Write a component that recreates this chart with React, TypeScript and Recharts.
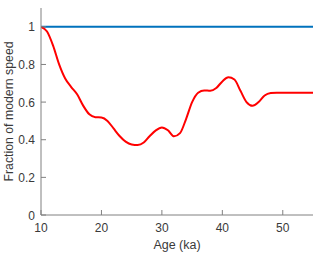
import React from 'react';
import { ComposedChart, Line, XAxis, YAxis, Label } from 'recharts';

const ages = [10, 11, 12, 13, 14, 15, 16, 17, 18, 19, 20, 21, 22, 23, 24, 25, 26, 27, 28, 29, 30, 31, 32, 33, 34, 35, 36, 37, 38, 39, 40, 41, 42, 43, 44, 45, 46, 47, 48, 49, 50, 51, 52, 53, 54, 55];
const fraction = [1.0, 0.975, 0.9, 0.8, 0.725, 0.68, 0.64, 0.58, 0.535, 0.52, 0.518, 0.5, 0.46, 0.42, 0.39, 0.375, 0.372, 0.385, 0.42, 0.45, 0.465, 0.45, 0.418, 0.435, 0.51, 0.6, 0.65, 0.662, 0.66, 0.675, 0.71, 0.732, 0.72, 0.66, 0.6, 0.58, 0.6, 0.635, 0.648, 0.65, 0.65, 0.65, 0.65, 0.65, 0.65, 0.65];
const modern = ages.map(() => 1);
const xTicks = [10, 20, 30, 40, 50];
const yTicks = [0, 0.2, 0.4, 0.6, 0.8, 1];

const data = ages.map((a, i) => ({ age: a, frac: fraction[i], modern: modern[i] }));

const AXIS = '#808080';
const TEXT = '#3a3a3a';
const FONT = '"Liberation Sans", Arial, sans-serif';
const TL = 5;

const BottomTick = (p: any) => (
  <g>
    <line x1={p.x} x2={p.x} y1={p.y} y2={p.y - TL} stroke={AXIS} />
    <text x={p.x} y={p.y + 17} textAnchor="middle" fontSize={12} fill={TEXT} fontFamily={FONT}>{p.payload.value}</text>
  </g>
);
const TopTick = (p: any) => (
  <line x1={p.x} x2={p.x} y1={p.y} y2={p.y + TL} stroke={AXIS} />
);
const LeftTick = (p: any) => (
  <g>
    <line x1={p.x + 6} x2={p.x + 6 + TL} y1={p.y} y2={p.y} stroke={AXIS} />
    <text x={p.x} y={p.y + 4.5} textAnchor="end" fontSize={12} fill={TEXT} fontFamily={FONT}>{String(p.payload.value)}</text>
  </g>
);
const RightTick = (p: any) => (
  <line x1={p.x} x2={p.x - TL} y1={p.y} y2={p.y} stroke={AXIS} />
);

const YLabel = (p: any) => {
  const vb = p.viewBox;
  const cy = vb.y + vb.height / 2;
  const x = 12.5;
  return (
    <text x={x} y={cy} transform={`rotate(-90 ${x} ${cy})`} textAnchor="middle" fontSize={12.3} fill={TEXT} fontFamily={FONT}>
      Fraction of modern speed
    </text>
  );
};

export default function App() {
  return (
    <div style={{ position: 'absolute', left: 0, top: 0 }}>
      <ComposedChart width={320} height={255} data={data} margin={{ top: 8, right: 7, bottom: 0, left: 0 }}>
        <XAxis xAxisId="top" orientation="top" dataKey="age" type="number" domain={[10, 55]} ticks={xTicks} height={0}
          axisLine={{ stroke: AXIS }} tickLine={false} tickSize={0} tickMargin={0} tick={<TopTick />} allowDataOverflow />
        <XAxis dataKey="age" type="number" domain={[10, 55]} ticks={xTicks} height={40}
          axisLine={{ stroke: AXIS }} tickLine={false} tickSize={0} tickMargin={0} tick={<BottomTick />} allowDataOverflow>
          <Label value="Age (ka)" position="insideBottom" offset={6} fontSize={12.5} fill={TEXT} fontFamily={FONT} />
        </XAxis>
        <YAxis domain={[0, 1.1]} ticks={yTicks} width={41} type="number"
          axisLine={{ stroke: AXIS }} tickLine={false} tickSize={0} tickMargin={6} tick={<LeftTick />} allowDataOverflow>
          <Label content={<YLabel />} />
        </YAxis>
        <YAxis yAxisId="right" orientation="right" domain={[0, 1.1]} ticks={yTicks} width={0} type="number"
          axisLine={{ stroke: AXIS }} tickLine={false} tickSize={0} tickMargin={0} tick={<RightTick />} allowDataOverflow />
        <Line dataKey="modern" stroke="#0072BD" strokeWidth={2} dot={false} isAnimationActive={false} type="linear" />
        <Line dataKey="frac" stroke="#FF0000" strokeWidth={2} dot={false} isAnimationActive={false} type="monotone" />
      </ComposedChart>
    </div>
  );
}
